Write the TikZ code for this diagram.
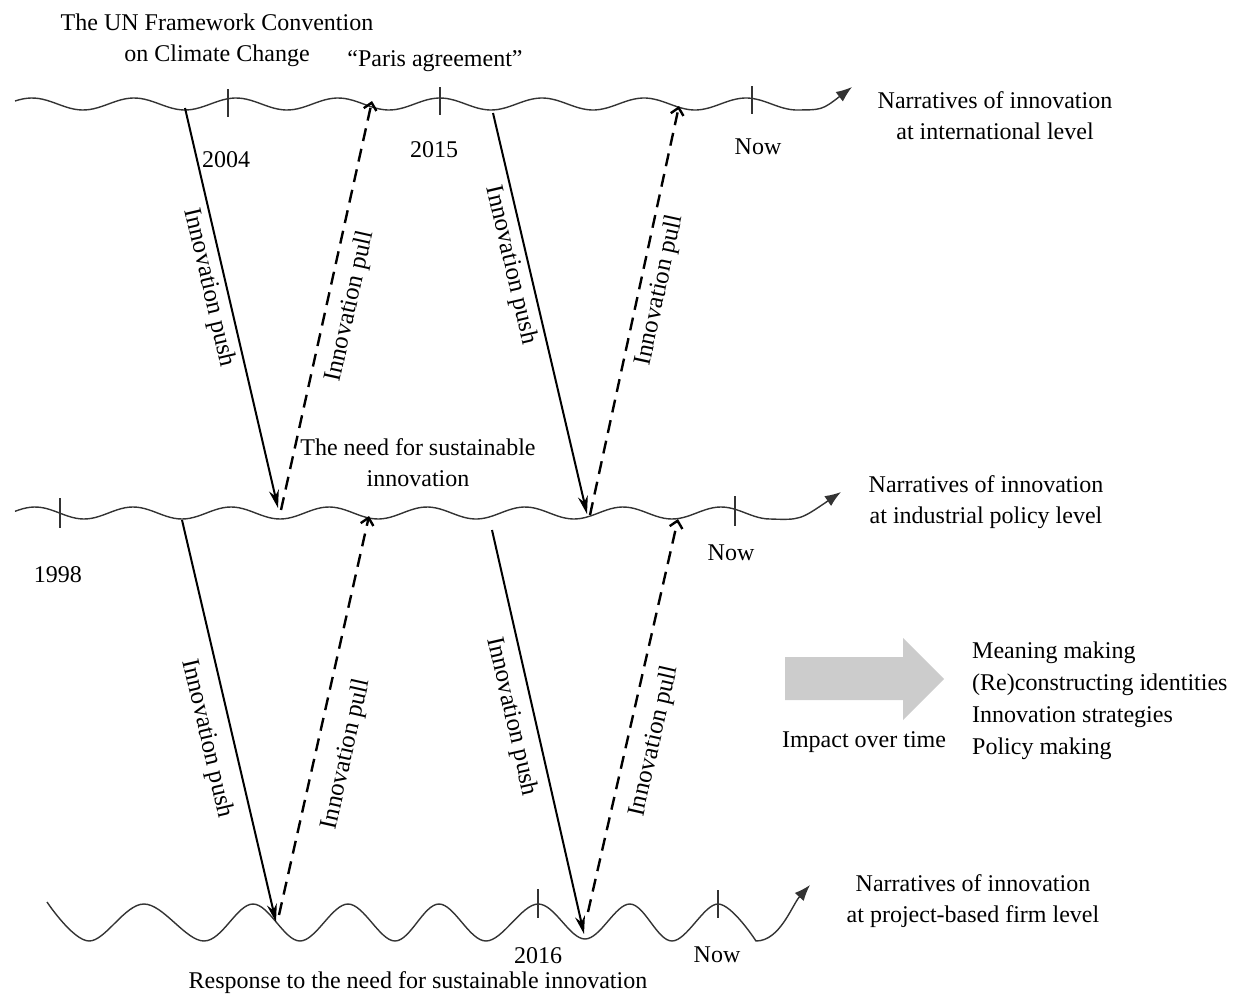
\documentclass[tikz,border=0pt]{standalone}
\usepackage{fontspec}
\setmainfont{Liberation Serif}
\usetikzlibrary{arrows.meta}

\begin{document}
\begin{tikzpicture}[x=1pt, y=-1pt,
    wave/.style={draw=black!80, line width=1.4pt},
    push/.style={line width=2pt, -{Stealth[length=18pt, width=10pt]}},
    pull/.style={line width=2.4pt, dash pattern=on 13pt off 8pt, -{Straight Barb[length=7pt, width=13pt]}},
    lbl/.style={font=\fontsize{24}{31}\selectfont, align=center, inner sep=2pt},
    arrlbl/.style={font=\fontsize{25}{30}\selectfont, inner sep=2pt, sloped},
    declare function={topw(\x)=104+6*sin((\x-185)/102*360+90);
                      midw(\x)=513+6*sin((\x-182)/98*360+90);}]

        \useasboundingbox (0,0) rectangle (1245,998);

        % the three levels
        \draw[wave, -{Latex[length=16pt, width=12pt]}] plot[domain=15:795, samples=200] (\x,{topw(\x)})
            .. controls (822,110) .. (852,87);
        \draw[wave, -{Latex[length=16pt, width=12pt]}] plot[domain=15:770, samples=200] (\x,{midw(\x)})
            .. controls (800,520) .. (841,492);
        \draw[wave, -{Latex[length=16pt, width=12pt]}] plot[smooth, tension=0.6] coordinates {
            (47,902) (89,941) (144,904) (204,941) (253,904) (300,941) (348,904) (395,941)
            (439,904) (486,941) (538,904) (585,939) (630,904) (672,941) (718,904) (756,941)}
            .. controls (780,941) and (792,905) .. (810,885);

        % ticks
        \draw[wave] (228,89) -- (228,117);
        \draw[wave] (440,87) -- (440,115);
        \draw[wave] (752,86) -- (752,114);
        \draw[wave] (60,498) -- (60,528);
        \draw[wave] (735,496) -- (735,526);
        \draw[wave] (538,889) -- (538,918);
        \draw[wave] (718,890) -- (718,918);

        % texts
        \node[lbl] (unfccc) at (217,40) {The UN Framework Convention\\on Climate Change};
        \node[lbl] (paris) at (435,61) {``Paris agreement''};
        \node[lbl] (y2004) at (226,160) {2004};
        \node[lbl] (y2015) at (434,150) {2015};
        \node[lbl] (nowtop) at (758,147) {Now};
        \node[lbl] (intl) at (995,116) {Narratives of innovation\\at international level};

        \node[lbl] (need) at (418,463) {The need for sustainable\\innovation};
        \node[lbl] (y1998) at (58,575) {1998};
        \node[lbl] (nowmid) at (731,553) {Now};
        \node[lbl] (indus) at (986,502) {Narratives of innovation\\at industrial policy level};

        \node[lbl] (y2016) at (538,956) {2016};
        \node[lbl] (nowbot) at (717,955) {Now};
        \node[lbl] (response) at (418,983) {Response to the need for sustainable innovation};
        \node[lbl] (firm) at (973,901) {Narratives of innovation\\at project-based firm level};

        % impact
        \fill[black!20] (785,657) -- (903,657) -- (903,638) -- (944,679) -- (903,720) -- (903,700)
            -- (785,700) -- cycle;
        \node[lbl] (impact) at (864,742) {Impact over time};
        \node[lbl, align=left, anchor=west, font=\fontsize{24}{32}\selectfont] (effects) at (970,701)
            {Meaning making\\(Re)constructing identities\\Innovation strategies\\Policy making};

        % push and pull
        \coordinate (push1s) at (185,108);  \coordinate (push1e) at (278,508);
        \coordinate (pull1s) at (281,510);  \coordinate (pull1e) at (372,101);
        \coordinate (push2s) at (493,113);  \coordinate (push2e) at (587,514);
        \coordinate (pull2s) at (590,515);  \coordinate (pull2e) at (679,106);
        \coordinate (push3s) at (182,520);  \coordinate (push3e) at (276,922);
        \coordinate (pull3s) at (279,915);  \coordinate (pull3e) at (369,516);
        \coordinate (push4s) at (492,530);  \coordinate (push4e) at (584,934);
        \coordinate (pull4s) at (588,912);  \coordinate (pull4e) at (678,519);

        \draw[push] (push1s) -- node[arrlbl, pos=0.44, below=3pt] (lpush1) {Innovation push} (push1e);
        \draw[pull] (pull1s) -- node[arrlbl, pos=0.51, below=9pt] (lpull1) {Innovation pull} (pull1e);
        \draw[push] (push2s) -- node[arrlbl, pos=0.37, below=3pt] (lpush2) {Innovation push} (push2e);
        \draw[pull] (pull2s) -- node[arrlbl, pos=0.56, below=6pt] (lpull2) {Innovation pull} (pull2e);
        \draw[push] (push3s) -- node[arrlbl, pos=0.53, below=11pt] (lpush3) {Innovation push} (push3e);
        \draw[pull] (pull3s) -- node[arrlbl, pos=0.42, below=16pt] (lpull3) {Innovation pull} (pull3e);
        \draw[push] (push4s) -- node[arrlbl, pos=0.45, below=8pt] (lpush4) {Innovation push} (push4e);
        \draw[pull] (pull4s) -- node[arrlbl, pos=0.45, below=12pt] (lpull4) {Innovation pull} (pull4e);
    \end{tikzpicture}
\end{document}
